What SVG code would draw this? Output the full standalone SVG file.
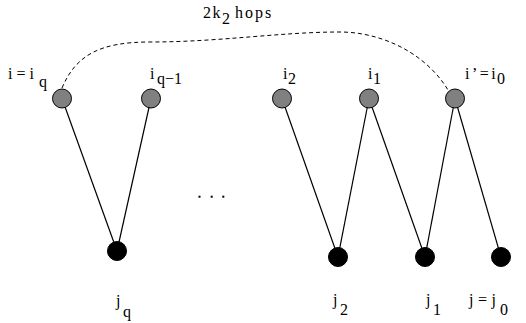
<svg xmlns="http://www.w3.org/2000/svg" width="526" height="323" viewBox="0 0 526 323">
<defs>
<circle id="gray" r="9.5" fill="#808080" stroke="#000" stroke-width="1"/>
<circle id="black" r="9.5" fill="#000" stroke="#000" stroke-width="1"/>
</defs>
<rect width="526" height="323" fill="#fff"/>
<g id="connectors" stroke="#000" fill="none">
<path stroke-width="1" stroke-dasharray="4 3" d="M62,88 C76,55 100,42 150,42 C220,42 280,32 340,32 C380,32 425,52 448,90"/>
<line stroke-width="1.2" x1="62" y1="98.5" x2="117" y2="251"/>
<line stroke-width="1.2" x1="151" y1="98.5" x2="117" y2="251"/>
<line stroke-width="1.2" x1="282" y1="98.5" x2="338" y2="257"/>
<line stroke-width="1.2" x1="369" y1="98.5" x2="338" y2="257"/>
<line stroke-width="1.2" x1="369" y1="98.5" x2="425" y2="257"/>
<line stroke-width="1.2" x1="455" y1="98.5" x2="425" y2="257"/>
<line stroke-width="1.2" x1="455" y1="98.5" x2="501" y2="257"/>
</g>
<text x="203" y="18" font-family="Liberation Serif" font-size="16" letter-spacing="1.5">2k</text>
<text x="222" y="24" font-family="Liberation Serif" font-size="16">2</text>
<text x="235" y="18" font-family="Liberation Serif" font-size="16" letter-spacing="2">hops</text>
<use href="#gray" x="62" y="98.5"/>
<text x="8" y="79" font-family="Liberation Serif" font-size="16" letter-spacing="4">i=i</text>
<text x="39" y="87" font-family="Liberation Serif" font-size="16">q</text>
<use href="#gray" x="151" y="98.5"/>
<text x="150" y="79" font-family="Liberation Serif" font-size="16">i</text>
<text x="157" y="84" font-family="Liberation Serif" font-size="16">q−1</text>
<use href="#gray" x="282" y="98.5"/>
<text x="283" y="79" font-family="Liberation Serif" font-size="16">i</text>
<text x="288" y="84" font-family="Liberation Serif" font-size="16">2</text>
<use href="#gray" x="369" y="98.5"/>
<text x="368" y="79" font-family="Liberation Serif" font-size="16">i</text>
<text x="373" y="84" font-family="Liberation Serif" font-size="16">1</text>
<use href="#gray" x="455" y="98.5"/>
<text x="465" y="79" font-family="Liberation Serif" font-size="16" letter-spacing="2.5">i’=i</text>
<text x="497" y="84" font-family="Liberation Serif" font-size="16">0</text>
<use href="#black" x="117" y="251"/>
<text x="116" y="306" font-family="Liberation Serif" font-size="16">j</text>
<text x="123" y="317" font-family="Liberation Serif" font-size="16">q</text>
<use href="#black" x="338" y="257"/>
<text x="333" y="305" font-family="Liberation Serif" font-size="16">j</text>
<text x="340" y="315" font-family="Liberation Serif" font-size="16">2</text>
<use href="#black" x="425" y="257"/>
<text x="426" y="305" font-family="Liberation Serif" font-size="16">j</text>
<text x="433" y="315" font-family="Liberation Serif" font-size="16">1</text>
<use href="#black" x="501" y="257"/>
<text x="469" y="305" font-family="Liberation Serif" font-size="16" letter-spacing="4.5">j=j</text>
<text x="500" y="315" font-family="Liberation Serif" font-size="16">0</text>
<rect x="198.5" y="195.7" width="2" height="2" fill="#000"/>
<rect x="210.7" y="195.7" width="2" height="2" fill="#000"/>
<rect x="222.3" y="195.7" width="2" height="2" fill="#000"/>
</svg>
